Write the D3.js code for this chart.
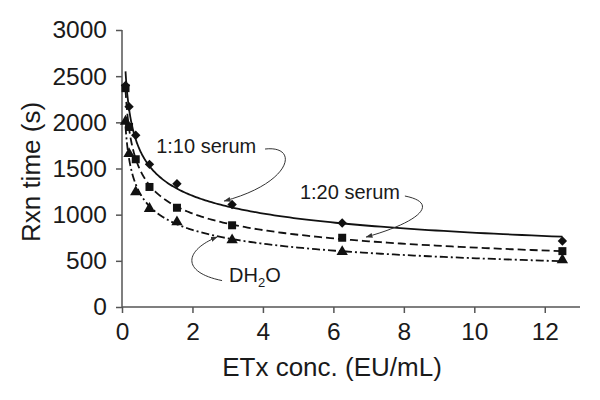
<!DOCTYPE html>
<html>
<head>
<meta charset="utf-8">
<script src="https://cdn.jsdelivr.net/npm/d3@7"></script>
<style>
  body { margin: 0; background: #fff; }
  svg text { font-family: "Liberation Sans", Arial, Helvetica, sans-serif; fill: #1a1a1a; }
</style>
</head>
<body>
<div id="chart" style="width:600px;height:400px"></div>
<script>

// Get the data
var conc = [0.1, 0.2, 0.39, 0.78, 1.56, 3.125, 6.25, 12.5];
var serum10 = [2400, 2170, 1860, 1545, 1335, 1110, 910, 715];
var serum20 = [2370, 1950, 1600, 1300, 1075, 885, 750, 605];
var water = [2010, 1660, 1245, 1065, 920, 725, 598, 510];

var xTicks = [0, 2, 4, 6, 8, 10, 12];
var yTicks = [0, 500, 1000, 1500, 2000, 2500, 3000];

// annotation labels with their leader curves (data units)
var noteText = ["1:10 serum", "1:20 serum", "DH"];
var noteAt = [[0.97, 1668], [5.05, 1170], [3.04, 268]];
var noteCurve = [
  [[4.06, 1711], [5.05, 1754], [4.83, 1343], [2.90, 1148]],
  [[8.03, 1202], [9.03, 1126], [8.46, 921], [6.93, 758]],
  [[2.84, 286], [1.65, 379], [1.79, 617], [2.70, 758]]
];

// power trend line fitted on log/log values
function powerFit(xs, ys) {
  var lx = xs.map(Math.log), ly = ys.map(Math.log);
  var mx = d3.mean(lx), my = d3.mean(ly);
  var sxy = d3.sum(lx, function(v, i) { return (v - mx) * (ly[i] - my); });
  var sxx = d3.sum(lx, function(v) { return (v - mx) * (v - mx); });
  var b = sxy / sxx;
  var a = Math.exp(my - b * mx);
  return function(x) { return a * Math.pow(x, b); };
}

function drawChart(containerSelector) {
  var container = d3.select(containerSelector);
  var margin = {top: 30, right: 20, bottom: 93, left: 122},
      width = 600 - margin.left - margin.right,
      height = 400 - margin.top - margin.bottom;

  var x = d3.scaleLinear().domain([0, 13]).range([0, width]);
  var y = d3.scaleLinear().domain([0, 3000]).range([height, 0]);

  var svg = container.append("svg")
      .attr("width", 600)
      .attr("height", 400);

  svg.append("defs").append("marker")
      .attr("id", "arrow")
      .attr("viewBox", "0 0 10 10")
      .attr("refX", 9).attr("refY", 5)
      .attr("markerWidth", 7).attr("markerHeight", 7)
      .attr("orient", "auto")
    .append("path")
      .attr("d", "M0,1.5L10,5L0,8.5z")
      .attr("fill", "#333");

  var g = svg.append("g")
      .attr("transform", "translate(" + margin.left + "," + margin.top + ")");

  // axes
  var xAxis = g.append("g")
      .attr("transform", "translate(0," + height + ")")
      .call(d3.axisBottom(x).tickValues(xTicks).tickSizeOuter(0).tickSize(6).tickPadding(10));
  var yAxis = g.append("g")
      .call(d3.axisLeft(y).tickValues(yTicks).tickFormat(d3.format("d")).tickSizeOuter(0).tickSize(6).tickPadding(9));

  [xAxis, yAxis].forEach(function(ax) {
    ax.selectAll("path, line").attr("stroke", "#555").attr("stroke-width", 1.5);
    ax.selectAll("text").attr("font-size", 24.5).attr("fill", "#1a1a1a")
      .style("font-family", "'Liberation Sans', Arial, sans-serif");
  });
  xAxis.select(".domain").attr("d", "M0,0H" + width);
  yAxis.select(".domain").attr("d", "M0," + height + "V0");

  // axis titles
  svg.append("text")
      .attr("x", 332).attr("y", 376)
      .attr("text-anchor", "middle")
      .attr("font-size", 26)
      .text("ETx conc. (EU/mL)");
  svg.append("text")
      .attr("transform", "translate(39.5,172) rotate(-90)")
      .attr("text-anchor", "middle")
      .attr("font-size", 26)
      .text("Rxn time (s)");

  var series = [
    {vals: serum10, dash: null, shape: "diamond"},
    {vals: serum20, dash: "8,4", shape: "square"},
    {vals: water, dash: "8,3,2,3", shape: "triangle"}
  ];

  var line = d3.line()
      .x(function(d) { return x(d[0]); })
      .y(function(d) { return y(d[1]); });

  series.forEach(function(s) {
    var f = powerFit(conc, s.vals);
    var lo = d3.min(conc), hi = d3.max(conc);
    var pts = d3.range(0, 201).map(function(i) {
      var xv = Math.exp(Math.log(lo) + (Math.log(hi) - Math.log(lo)) * i / 200);
      return [xv, f(xv)];
    });
    g.append("path")
        .datum(pts)
        .attr("d", line)
        .attr("fill", "none")
        .attr("stroke", "#111")
        .attr("stroke-width", 1.8)
        .attr("stroke-dasharray", s.dash);

    var sym = d3.symbol()
        .type(s.shape === "triangle" ? d3.symbolTriangle : d3.symbolSquare)
        .size(s.shape === "diamond" ? 44 : s.shape === "square" ? 64 : 56);

    g.selectAll(".pt-" + s.shape)
        .data(conc.map(function(c, i) { return [c, s.vals[i]]; }))
      .enter().append("path")
        .attr("class", "pt-" + s.shape)
        .attr("d", sym)
        .attr("transform", function(d) {
          return "translate(" + x(d[0]) + "," + y(d[1]) + ")" + (s.shape === "diamond" ? " rotate(45)" : "");
        })
        .attr("fill", "#111");
  });

  // annotations
  noteCurve.forEach(function(c) {
    var p = c.map(function(d) { return [x(d[0]), y(d[1])]; });
    g.append("path")
        .attr("d", "M" + p[0] + "C" + p[1] + " " + p[2] + " " + p[3])
        .attr("fill", "none")
        .attr("stroke", "#333")
        .attr("stroke-width", 1)
        .attr("marker-end", "url(#arrow)");
  });

  noteText.forEach(function(t, i) {
    var txt = g.append("text")
        .attr("x", x(noteAt[i][0]))
        .attr("y", y(noteAt[i][1]))
        .attr("font-size", 20)
        .text(t);
    if (i === 2) {
      txt.append("tspan").attr("font-size", 13).attr("dy", 5).text("2");
      txt.append("tspan").attr("dy", -5).text("O");
    }
  });
}

drawChart("#chart");
</script>
</body>
</html>
